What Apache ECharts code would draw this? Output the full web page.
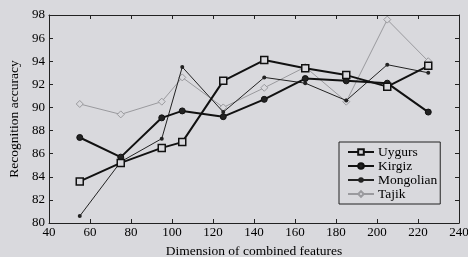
<!DOCTYPE html>
<html>
<head>
<meta charset="utf-8">
<script src="https://cdn.jsdelivr.net/npm/echarts@6/dist/echarts.min.js"></script>
<style>
  html, body { margin: 0; padding: 0; background: #d9d9dd; }
  #chart { width: 468px; height: 257px; }
</style>
</head>
<body>
<div id="chart"></div>
<script>
// feature dimensions (x values)
const dims = [55, 75, 95, 105, 125, 145, 165, 185, 205, 225];

// recognition accuracy per language
const uygurs    = [83.6, 85.2, 86.5, 87.0, 92.3, 94.1, 93.4, 92.8, 91.8, 93.6];
const kirgiz    = [87.4, 85.7, 89.1, 89.7, 89.2, 90.7, 92.5, 92.3, 92.1, 89.6];
const mongolian = [80.6, 85.3, 87.3, 93.5, 89.6, 92.6, 92.1, 90.6, 93.7, 93.0];
const tajik     = [90.3, 89.4, 90.5, 92.6, 90.0, 91.7, 93.5, 90.5, 97.6, 94.0];

const font = "Liberation Serif";
const pair = (ys) => dims.map((x, i) => [x, ys[i]]);

const chartDom = document.getElementById("chart");
const myChart = echarts.init(chartDom);

const axisCommon = {
  axisLine: { show: true, onZero: false, lineStyle: { color: "#222", width: 1 } },
  axisTick: { inside: true, length: 4, lineStyle: { color: "#222" } },
  splitLine: { show: false },
};

let option = {
  backgroundColor: "#d9d9dd",
  animation: false,
  grid: { left: 49, right: 9, top: 15, bottom: 34, outerBoundsMode: "none", containLabel: false },
  xAxis: [
    {
      ...axisCommon,
      type: "value",
      min: 40,
      max: 240,
      interval: 20,
      name: "Dimension of combined features",
      nameLocation: "center",
      nameGap: 21,
      nameTextStyle: { fontFamily: font, fontSize: 13.5, color: "#000" },
      axisLabel: { fontFamily: font, fontSize: 13, color: "#000", margin: 3 },
    },
    {
      ...axisCommon,
      type: "value",
      position: "top",
      min: 40,
      max: 240,
      interval: 20,
      axisLabel: { show: false },
    },
  ],
  yAxis: [
    {
      ...axisCommon,
      type: "value",
      min: 80,
      max: 98,
      interval: 2,
      name: "Recognition accuracy",
      nameLocation: "center",
      nameGap: 25,
      nameTextStyle: { fontFamily: font, fontSize: 13.5, color: "#000" },
      axisLabel: { fontFamily: font, fontSize: 13, color: "#000", margin: 4 },
    },
    {
      ...axisCommon,
      type: "value",
      position: "right",
      min: 80,
      max: 98,
      interval: 2,
      axisLabel: { show: false },
    },
  ],
  legend: {
    orient: "vertical",
    left: 339,
    top: 142,
    padding: [3, 3, 3, 8],
    itemGap: 0,
    itemWidth: 26,
    itemHeight: 7,
    borderColor: "#222",
    borderWidth: 1,
    borderRadius: 0,
    textStyle: { fontFamily: font, fontSize: 13.5, lineHeight: 14, color: "#000", padding: [0, 0, 0, -1] },
    data: ["Uygurs", "Kirgiz", "Mongolian", "Tajik"],
  },
  series: [
    {
      name: "Uygurs",
      type: "line",
      data: pair(uygurs),
      symbol: "rect",
      symbolSize: 7,
      lineStyle: { color: "#111", width: 2 },
      itemStyle: { color: "#d9d9dd", borderColor: "#111", borderWidth: 1.5 },
      z: 4,
    },
    {
      name: "Kirgiz",
      type: "line",
      data: pair(kirgiz),
      symbol: "circle",
      symbolSize: 6,
      lineStyle: { color: "#111", width: 2 },
      itemStyle: { color: "#222", borderColor: "#111", borderWidth: 1 },
      z: 3,
    },
    {
      name: "Mongolian",
      type: "line",
      data: pair(mongolian),
      symbol: "circle",
      symbolSize: 4,
      lineStyle: { color: "#222", width: 1 },
      itemStyle: { color: "#222" },
      z: 2,
    },
    {
      name: "Tajik",
      type: "line",
      data: pair(tajik),
      symbol: "diamond",
      symbolSize: 7,
      lineStyle: { color: "#9a9a9e", width: 1 },
      itemStyle: { color: "#d9d9dd", borderColor: "#9a9a9e", borderWidth: 1 },
      z: 1,
    },
  ],
};

myChart.setOption(option);
</script>
</body>
</html>
